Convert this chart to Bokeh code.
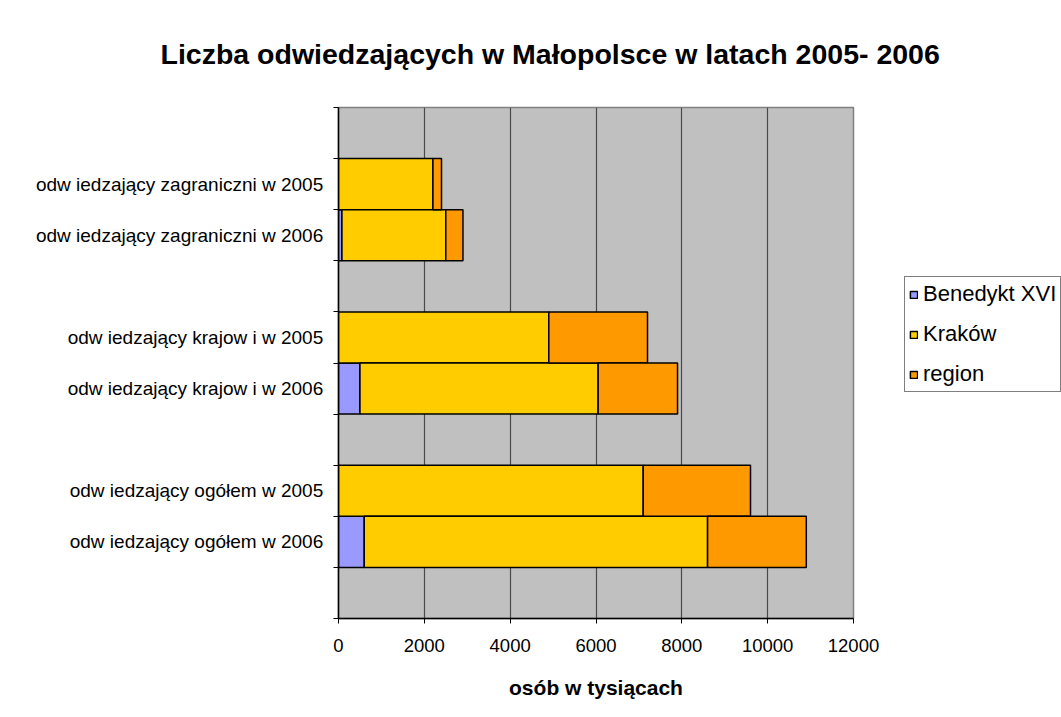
from bokeh.plotting import figure
from bokeh.models import Range1d, FixedTicker, LinearAxis, ColumnDataSource
from bokeh.embed import file_html
from bokeh.resources import INLINE

title_text = "Liczba odwiedzających w Małopolsce w latach 2005- 2006"
x_title = "osób w tysiącach"
categories = [
    "odw iedzający zagraniczni w  2005",
    "odw iedzający zagraniczni w  2006",
    "odw iedzający krajow i w  2005",
    "odw iedzający krajow i w  2006",
    "odw iedzający ogółem w  2005",
    "odw iedzający ogółem w  2006",
]
series_names = ["Benedykt XVI", "Kraków", "region"]
benedykt = [0, 80, 0, 500, 0, 600]
krakow = [2200, 2420, 4900, 5550, 7100, 8000]
region = [200, 400, 2300, 1850, 2500, 2300]
x_ticks = [0, 2000, 4000, 6000, 8000, 10000, 12000]
colors = ["#9999FF", "#FFCC00", "#FF9900"]

FONT = "Liberation Sans"

# two bars per group, one empty row between groups (and at both ends)
n_rows = 10
rows = [(i // 2) * 3 + 1 + (i % 2) + 0.5 for i in range(len(categories))]

source = ColumnDataSource(dict(y=rows, b=benedykt, k=krakow, r=region))

p = figure(
    frame_width=515, frame_height=511,
    x_range=Range1d(0, x_ticks[-1]), y_range=Range1d(n_rows, 0),
    y_axis_type=None,
    output_backend="svg", toolbar_location=None,
    min_border_left=338, min_border_top=107, min_border_right=208, min_border_bottom=99,
    border_fill_color="white", background_fill_color="#C0C0C0",
)
p.outline_line_color = "#808080"
p.outline_line_width = 1.5

# title
p.title.text = title_text
p.title.text_font = FONT
p.title.text_font_size = "28.5px"
p.title.text_font_style = "bold"
p.title.text_color = "black"
p.title.align = "left"
p.title.offset = -178
p.title.vertical_align = "top"
p.title.standoff = 71

p.hbar_stack(["b", "k", "r"], y="y", height=1.0, source=source,
             fill_color=colors, line_color="black", line_width=1.5,
             legend_label=series_names)

# x axis
xa = p.xaxis[0]
xa.ticker = FixedTicker(ticks=x_ticks, minor_ticks=[])
xa.major_tick_out = 5
xa.major_tick_in = 0
xa.axis_line_color = "black"
xa.axis_line_width = 1.5
xa.major_tick_line_color = "black"
xa.major_label_text_font = FONT
xa.major_label_text_font_size = "18.5px"
xa.major_label_text_color = "black"
xa.major_label_standoff = 15
xa.axis_label = x_title
xa.axis_label_text_font = FONT
xa.axis_label_text_font_size = "21px"
xa.axis_label_text_font_style = "bold"
xa.axis_label_text_color = "black"
xa.axis_label_standoff = 21

p.xgrid.ticker = FixedTicker(ticks=x_ticks, minor_ticks=[])
p.xgrid.grid_line_color = "#4a4a4a"
p.xgrid.grid_line_width = 1.2

# y axis: tick marks at row boundaries
tick_axis = LinearAxis(
    ticker=FixedTicker(ticks=list(range(n_rows + 1)), minor_ticks=[]),
    major_tick_out=5, major_tick_in=0,
    axis_line_color="black", axis_line_width=1.5,
    major_tick_line_color="black",
    major_label_text_font_size="0px", major_label_standoff=0,
    major_label_overrides={i: "" for i in range(n_rows + 1)},
)
p.add_layout(tick_axis, "left")

# y axis: category labels at row centres
label_axis = LinearAxis(
    ticker=FixedTicker(ticks=rows, minor_ticks=[]),
    major_label_overrides={r: c for r, c in zip(rows, categories)},
    axis_line_color=None, major_tick_line_color=None,
    major_tick_out=0, major_tick_in=0,
    major_label_text_font=FONT, major_label_text_font_size="19px",
    major_label_text_color="black", major_label_standoff=5,
)
p.add_layout(label_axis, "left")

# legend in the right-hand panel
lg = p.legend[0]
p.center.remove(lg)
p.add_layout(lg, "right")
lg.location = (51, 226)
lg.border_line_color = "black"
lg.border_line_width = 1
lg.background_fill_color = "white"
lg.background_fill_alpha = 1.0
lg.label_text_font = FONT
lg.label_text_font_size = "22px"
lg.label_text_color = "black"
lg.glyph_width = 9
lg.glyph_height = 9
lg.label_standoff = 5
lg.label_height = 22
lg.spacing = 14
lg.padding = 4
lg.margin = 0

open("out.html", "w").write(file_html(p, INLINE))
